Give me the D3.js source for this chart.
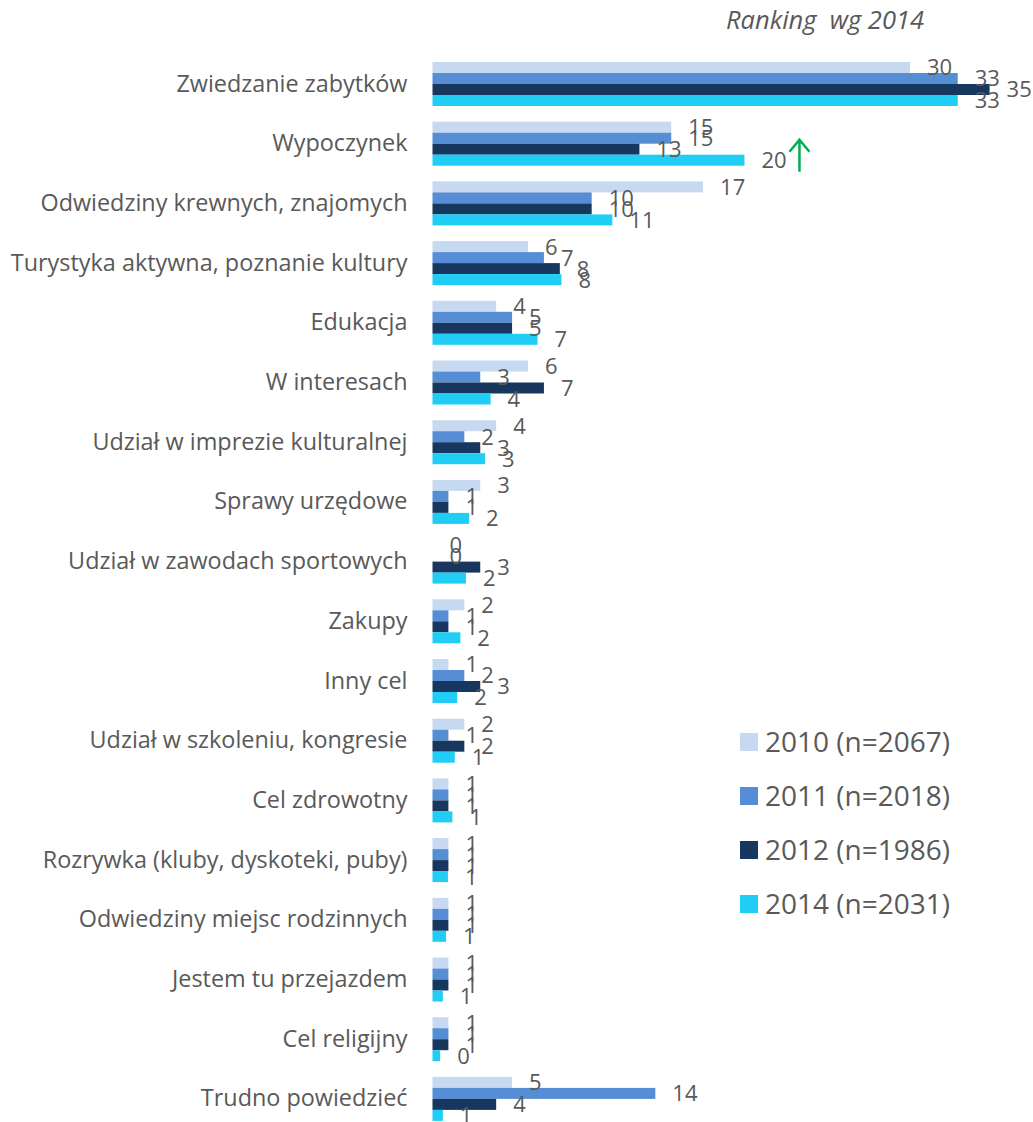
<!DOCTYPE html>
<html>
<head>
<meta charset="utf-8">
<script src="https://cdn.jsdelivr.net/npm/d3@7"></script>
<style>
  body { margin: 0; background: #fff; }
  text { font-family: "Open Sans", "DejaVu Sans", sans-serif; fill: #595959; }
</style>
</head>
<body>
<svg width="1033" height="1122"></svg>
<script>
const categories = [
  "Zwiedzanie zabytków",
  "Wypoczynek",
  "Odwiedziny krewnych, znajomych",
  "Turystyka aktywna, poznanie kultury",
  "Edukacja",
  "W interesach",
  "Udział w imprezie kulturalnej",
  "Sprawy urzędowe",
  "Udział w zawodach sportowych",
  "Zakupy",
  "Inny cel",
  "Udział w szkoleniu, kongresie",
  "Cel zdrowotny",
  "Rozrywka (kluby, dyskoteki, puby)",
  "Odwiedziny miejsc rodzinnych",
  "Jestem tu przejazdem",
  "Cel religijny",
  "Trudno powiedzieć"
];
const seriesNames = ["2010 (n=2067)", "2011 (n=2018)", "2012 (n=1986)", "2014 (n=2031)"];
const seriesColors = ["#c6d9f1", "#558ed5", "#17375e", "#1fcdf5"];

const v2010 = [30, 15, 17, 6, 4, 6, 4, 3, 0, 2, 1, 2, 1, 1, 1, 1, 1, 5];
const v2011 = [33, 15, 10, 7, 5, 3, 2, 1, 0, 1, 2, 1, 1, 1, 1, 1, 1, 14];
const v2012 = [35, 13, 10, 8, 5, 7, 3, 1, 3, 1, 3, 2, 1, 1, 1, 1, 1, 4];
const v2014 = [33, 19.6, 11.3, 8.1, 6.6, 3.65, 3.3, 2.3, 2.1, 1.75, 1.55, 1.4, 1.25, 0.97, 0.85, 0.65, 0.48, 0.65];
const allSeries = [v2010, v2011, v2012, v2014];

const rankingTitle = "Ranking\u00a0 wg 2014";

const svg = d3.select("svg");
const x0 = 432.5;

const x = d3.scaleLinear().domain([0, 30]).range([x0, 910]);

const y = d3.scaleBand()
  .domain(categories)
  .range([54.15, 1128.75])
  .paddingInner(0.263)
  .paddingOuter(0.1315);

const ySub = d3.scaleBand()
  .domain(d3.range(seriesNames.length))
  .range([0, y.bandwidth()]);

// category labels
const yAxis = d3.axisLeft(y).tickSize(0).tickPadding(25);
svg.append("g")
  .attr("transform", "translate(" + x0 + ",0)")
  .call(yAxis)
  .call(g => g.select(".domain").remove())
  .call(g => g.selectAll(".tick text")
    .attr("font-size", 23.4)
    .attr("fill", "#595959")
    .attr("font-family", null));

// bars
const groups = svg.append("g").selectAll("g")
  .data(categories)
  .join("g")
  .attr("transform", d => "translate(0," + y(d) + ")");

groups.selectAll("rect")
  .data((d, i) => allSeries.map((s, k) => ({k: k, v: s[i]})))
  .join("rect")
  .attr("x", x0)
  .attr("y", d => ySub(d.k))
  .attr("width", d => x(d.v) - x0)
  .attr("height", ySub.bandwidth())
  .attr("fill", d => seriesColors[d.k]);

groups.selectAll("text.val")
  .data((d, i) => allSeries.map((s, k) => ({k: k, v: s[i]})))
  .join("text")
  .attr("class", "val")
  .attr("x", d => x(d.v) + 17)
  .attr("y", d => ySub(d.k) + ySub.bandwidth() / 2)
  .attr("dy", "0.36em")
  .attr("font-size", 22)
  .text(d => Math.round(d.v));

// green arrow next to 2014 "Wypoczynek"
const ax = x(v2014[1]) + 17 + 24 + 14;
const aTop = y(categories[1]) + ySub(3) - 16;
const aBot = y(categories[1]) + ySub(3) + ySub.bandwidth() + 6;
const arrow = d3.path();
arrow.moveTo(ax, aBot);
arrow.lineTo(ax, aTop + 1);
arrow.moveTo(ax - 10, aTop + 13);
arrow.lineTo(ax, aTop + 1);
arrow.lineTo(ax + 10, aTop + 13);
svg.append("path")
  .attr("d", arrow.toString())
  .attr("fill", "none")
  .attr("stroke", "#00b050")
  .attr("stroke-width", 2.5);

// title
svg.append("text")
  .attr("x", 726)
  .attr("y", 29)
  .attr("font-size", 25.5)
  .attr("font-style", "italic")
  .text(rankingTitle);

// legend
const legend = svg.append("g").attr("transform", "translate(740,742)");
const li = legend.selectAll("g")
  .data(seriesNames)
  .join("g")
  .attr("transform", (d, i) => "translate(0," + i * 54 + ")");
li.append("rect")
  .attr("x", 0).attr("y", -9)
  .attr("width", 18).attr("height", 18)
  .attr("fill", (d, i) => seriesColors[i]);
li.append("text")
  .attr("x", 25)
  .attr("y", 0)
  .attr("dy", "0.36em")
  .attr("font-size", 28)
  .text(d => d);
</script>
</body>
</html>
